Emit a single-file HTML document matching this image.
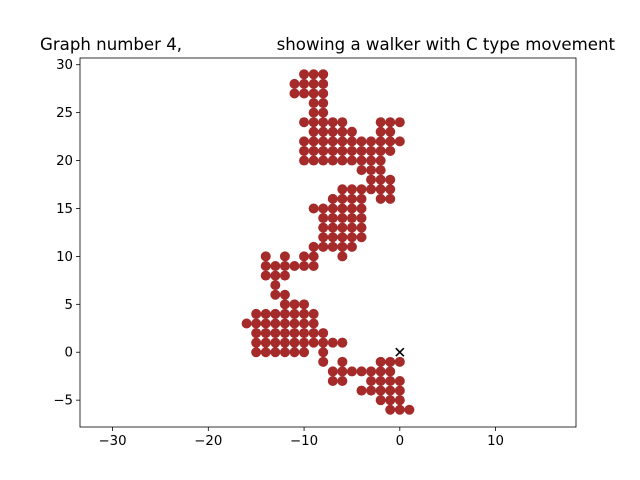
<!DOCTYPE html>
<html><head><meta charset="utf-8"><style>body{margin:0;background:#fff}svg{display:block;font-family:"DejaVu Sans","Liberation Sans",sans-serif}</style></head>
<body>
<svg id="c" width="640" height="480"></svg>
<script>
const rowYs=[29,28,27,26,25,24,23,22,21,20,19,18,17,16,15,14,13,12,11,10,9,8,7,6,5,4,3,2,1,0,-1,-2,-3,-4,-5,-6];
const rowXs=[
[-10,-9,-8],[-11,-10,-9,-8],[-11,-10,-9,-8],[-9,-8],[-9,-8],
[-10,-9,-8,-7,-6,-2,-1,0],[-9,-8,-7,-6,-5,-2,-1],[-10,-9,-8,-7,-6,-5,-4,-3,-2,-1,0],
[-10,-9,-8,-7,-6,-5,-4,-3,-2,-1],[-10,-9,-8,-7,-6,-5,-4,-3,-2],[-4,-3,-2],[-3,-2,-1],
[-6,-5,-4,-3,-2,-1],[-7,-6,-5,-4,-2,-1],[-9,-8,-7,-6,-5,-4],[-8,-7,-6,-5,-4],[-8,-7,-6,-5,-4],
[-8,-7,-6,-5,-4],[-9,-8,-7,-6,-5],[-14,-12,-10,-9,-6],[-14,-13,-12,-11,-10,-9],[-14,-13,-12],
[-13],[-13,-12],[-12,-11,-10],[-15,-14,-13,-12,-11,-10,-9],[-16,-15,-14,-13,-12,-11,-10,-9],
[-15,-14,-13,-12,-11,-10,-9,-8],[-15,-14,-13,-12,-11,-10,-9,-8,-7,-6],[-15,-14,-13,-12,-11,-10,-8],
[-8,-6,-2,-1,0],[-7,-6,-5,-4,-3,-2,-1],[-7,-6,-3,-2,-1,0],[-4,-3,-2,-1,0],[-2,-1,0],[-1,0,1]];
const startPt=[0,0];
const xTicks=[-30,-20,-10,0,10];
const yTicks=[-5,0,5,10,15,20,25,30];
const X0=80,X1=576,Y0=58,Y1=427,xmin=-33.4,xmax=18.4,ymin=-7.8,ymax=30.7;
const sx=v=>X0+(v-xmin)/(xmax-xmin)*(X1-X0);
const sy=v=>Y1-(v-ymin)/(ymax-ymin)*(Y1-Y0);
const svg=document.getElementById('c');const NS='http://www.w3.org/2000/svg';
function mk(t,a,p){const e=document.createElementNS(NS,t);for(const k in a)e.setAttribute(k,a[k]);(p||svg).appendChild(e);return e;}
const pts=mk('g',{});


rowYs.forEach((y,i)=>rowXs[i].forEach(x=>{const c=mk('circle',{cx:sx(x),cy:sy(y),r:5,fill:'#a52a2a'},pts);

}));
const m=mk('g',{stroke:'#000','stroke-width':1.6});


const cx=sx(startPt[0]),cy=sy(startPt[1]);
mk('line',{x1:cx-4,y1:cy-4,x2:cx+4,y2:cy+4},m);mk('line',{x1:cx-4,y1:cy+4,x2:cx+4,y2:cy-4},m);
const fr=mk('rect',{x:X0,y:Y0,width:X1-X0,height:Y1-Y0,fill:'none',stroke:'#000','stroke-width':0.8});


xTicks.forEach(t=>{const x=sx(t);mk('line',{x1:x,y1:Y1,x2:x,y2:Y1+4,stroke:'#000','stroke-width':0.8});
const l=mk('text',{x:x,y:Y1+18,'text-anchor':'middle','font-size':13.3,fill:'#000'});l.textContent=(t<0?'\u2212'+(-t):t);

});
yTicks.forEach(t=>{const y=sy(t);mk('line',{x1:X0,y1:y,x2:X0-4,y2:y,stroke:'#000','stroke-width':0.8});
const l=mk('text',{x:X0-7,y:y+4.5,'text-anchor':'end','font-size':13.3,fill:'#000'});l.textContent=(t<0?'\u2212'+(-t):t);

});
const t1=mk('text',{x:40,y:50,'font-size':16.6,fill:'#000'});t1.textContent='Graph number 4,';


const t2=mk('text',{x:615,y:50,'font-size':16.6,fill:'#000','text-anchor':'end'});t2.textContent='showing a walker with C type movement';


</script>
</body></html>
